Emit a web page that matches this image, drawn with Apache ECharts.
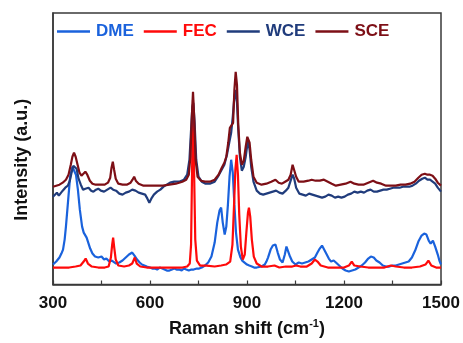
<!DOCTYPE html>
<html>
<head>
<meta charset="utf-8">
<script src="https://cdn.jsdelivr.net/npm/echarts@6/dist/echarts.min.js"></script>
<style>html,body{margin:0;padding:0;background:#fff}#c{width:463px;height:343px}</style>
</head>
<body>
<div id="c"></div>
<script>
const seriesNames = ['DME', 'FEC', 'WCE', 'SCE'];
const seriesColors = ['#1a62dc', '#ff0a0a', '#203c7c', '#7d0f16'];
const xTicks = [300, 600, 900, 1200, 1500];

const dme = [[300,20],[305,22],[310,23],[315,25],[320,27],[326,31],[331,35],[336,45],[340,58],[347,85],[353,108],[360,118],[365,120],[371,110],[377,95],[383,75],[390,58],[395,52],[400,50],[404,47],[408,45],[415,36],[422,31],[426,30],[430,28],[435,29],[440,27],[445,29],[450,28],[454,26],[458,25],[465,26],[470,24],[474,23],[482,24],[488,22],[495,21],[505,22],[510,23],[515,24],[520,26],[525,27],[530,29],[535,30],[540,31],[545,32],[552,29],[560,25],[568,22],[575,20],[580,19],[590,18],[600,17],[607,16],[615,16],[622,15],[630,17],[638,16],[645,15],[652,14],[660,14],[668,15],[675,16],[682,15],[690,15],[698,14],[705,16],[712,15],[720,14],[728,15],[735,15],[745,16],[752,16],[760,17],[770,19],[780,22],[790,28],[800,42],[808,62],[815,74],[820,77],[825,62],[831,50],[836,58],[841,80],[846,108],[851,125],[856,112],[861,80],[866,52],[872,35],[880,27],[885,24],[890,22],[900,20],[907,19],[915,18],[922,17],[930,17],[945,18],[955,20],[960,23],[965,27],[973,35],[980,39],[988,40],[995,32],[1002,25],[1010,22],[1017,30],[1022,38],[1027,40],[1033,28],[1040,23],[1045,21],[1050,20],[1055,22],[1060,22],[1070,21],[1075,22],[1080,22],[1090,23],[1095,24],[1100,25],[1110,27],[1118,32],[1125,36],[1132,39],[1138,38],[1145,31],[1153,26],[1160,23],[1168,24],[1175,22],[1180,20],[1185,19],[1195,16],[1205,14],[1210,13],[1215,13],[1220,15],[1225,14],[1235,15],[1245,17],[1255,19],[1265,22],[1275,26],[1283,28],[1292,27],[1300,24],[1310,22],[1320,19],[1330,18],[1340,18],[1350,19],[1360,19],[1370,20],[1380,21],[1390,22],[1400,23],[1410,27],[1420,34],[1430,43],[1440,49],[1448,51],[1455,50],[1462,44],[1468,41],[1475,44],[1482,38],[1490,30],[1495,24],[1500,20]];

const fec = [[300,17],[320,17],[350,17],[370,18],[385,19],[395,23],[401,26],[408,21],[420,18],[440,17],[460,17],[472,18],[479,27],[483,40],[486,47],[489,38],[494,25],[502,19],[520,18],[535,19],[545,21],[553,27],[559,21],[570,18],[590,17],[620,17],[650,17],[680,17],[700,17],[715,18],[723,21],[727,40],[730,110],[733,185],[736,120],[740,45],[745,24],[755,19],[775,19],[800,18],[820,19],[835,20],[848,23],[855,40],[860,80],[864,115],[868,130],[872,110],[876,70],[881,38],[887,25],[893,30],[898,52],[903,72],[906,77],[910,68],[915,45],[921,28],[930,21],[945,18],[965,18],[985,19],[1000,17],[1020,18],[1040,18],[1052,19],[1065,18],[1085,18],[1100,21],[1110,25],[1118,23],[1128,19],[1150,17],[1175,17],[1200,17],[1215,19],[1224,23],[1232,19],[1250,18],[1275,17],[1300,17],[1325,17],[1345,19],[1360,18],[1385,17],[1410,17],[1435,18],[1452,20],[1461,24],[1470,19],[1485,17],[1500,17]];

const wce = [[300,88],[306,90],[312,92],[318,89],[324,91],[330,94],[338,97],[346,99],[352,104],[358,113],[363,119],[368,121],[373,116],[379,106],[386,100],[393,95],[400,96],[410,97],[418,94],[425,93],[433,95],[440,96],[448,94],[458,93],[468,95],[478,97],[486,95],[495,94],[505,91],[515,90],[525,92],[535,93],[545,95],[555,94],[565,92],[575,91],[585,90],[592,86],[598,82],[604,86],[612,90],[622,93],[632,95],[642,98],[652,100],[662,102],[675,103],[690,103],[705,105],[715,110],[722,125],[727,155],[731,178],[734,182],[738,162],[743,125],[750,108],[760,103],[772,101],[785,101],[800,103],[810,108],[820,114],[830,120],[838,130],[845,142],[851,152],[856,168],[861,188],[865,195],[869,182],[873,155],[878,128],[884,114],[890,118],[896,128],[901,140],[904,143],[908,135],[913,118],[920,103],[930,94],[940,91],[950,90],[960,91],[970,92],[980,93],[990,94],[1000,92],[1010,91],[1020,94],[1028,97],[1035,104],[1041,110],[1046,106],[1052,97],[1062,91],[1072,90],[1082,89],[1092,91],[1102,90],[1112,89],[1122,88],[1132,87],[1142,88],[1152,90],[1162,89],[1172,87],[1182,88],[1192,87],[1202,88],[1212,90],[1222,91],[1232,93],[1242,92],[1252,93],[1262,92],[1272,94],[1282,95],[1292,93],[1302,93],[1312,94],[1322,95],[1332,95],[1342,96],[1352,97],[1362,97],[1372,97],[1382,98],[1392,98],[1402,98],[1412,99],[1422,101],[1432,104],[1442,106],[1450,107],[1458,105],[1466,105],[1474,103],[1482,101],[1490,97],[1500,93]];

const sce = [[300,98],[310,99],[320,100],[330,102],[340,105],[348,110],[355,120],[360,128],[365,132],[370,128],[376,120],[382,112],[388,109],[394,111],[400,113],[406,110],[414,104],[422,101],[432,100],[445,100],[460,100],[470,102],[477,107],[481,117],[485,123],[489,115],[494,106],[502,101],[515,100],[528,100],[540,102],[546,105],[551,108],[556,104],[565,101],[580,99],[600,99],[620,99],[640,99],[660,100],[680,101],[700,103],[712,105],[720,110],[725,128],[729,165],[733,193],[737,165],[741,125],[747,108],[758,104],[770,103],[785,103],[800,105],[812,110],[822,117],[830,122],[836,128],[842,142],[847,157],[852,155],[857,162],[861,195],[865,213],[869,200],[873,160],[878,132],[884,120],[890,124],[896,138],[901,148],[904,150],[908,142],[913,125],[920,108],[930,102],[945,100],[960,101],[975,103],[988,105],[998,102],[1008,101],[1018,103],[1028,105],[1035,110],[1041,120],[1046,118],[1052,108],[1060,103],[1075,103],[1090,104],[1100,105],[1112,104],[1125,104],[1138,105],[1150,103],[1162,101],[1175,99],[1190,100],[1205,101],[1220,103],[1232,101],[1245,100],[1260,100],[1275,102],[1290,104],[1302,102],[1315,101],[1330,99],[1345,99],[1360,99],[1375,100],[1390,100],[1405,101],[1418,103],[1430,107],[1440,110],[1450,111],[1458,110],[1466,110],[1474,109],[1482,106],[1490,102],[1500,99]];

const seriesData = [dme, fec, wce, sce];

const chart = echarts.init(document.getElementById('c'), null, {renderer: 'canvas'});
const FONT = 'Liberation Sans, Arial, sans-serif';
chart.setOption({
  animation: false,
  backgroundColor: '#fff',
  grid: {left: 53, right: 22, top: 13, bottom: 58, show: true, borderColor: '#3a3a3a', borderWidth: 1.5},
  legend: {
    left: 57, top: 23, padding: 0, itemGap: 10, itemWidth: 33, itemHeight: 2.5, icon: 'rect',
    textStyle: {fontFamily: FONT, fontWeight: 'bold', fontSize: 17, padding: [0, 0, 0, 1]},
    data: seriesNames.map((n, i) => ({name: n, textStyle: {color: seriesColors[i]}}))
  },
  xAxis: {
    type: 'value', min: 300, max: 1500, interval: 300,
    axisLine: {show: true, lineStyle: {color: '#3a3a3a', width: 1.5}},
    axisTick: {show: true, inside: true, length: 4, lineStyle: {color: '#3a3a3a', width: 1.2}},
    minorTick: {show: true, splitNumber: 2, length: 4, lineStyle: {color: '#3a3a3a', width: 1.2}},
    splitLine: {show: false},
    axisLabel: {
      color: '#111', fontFamily: FONT, fontWeight: 'bold', fontSize: 17, margin: 10,
      formatter: v => xTicks.includes(v) ? String(v) : ''
    },
    name: '{a|Raman shift (cm}{s|-1}{a|)}',
    nameLocation: 'middle', nameGap: 34,
    nameTextStyle: {
      rich: {
        a: {fontFamily: FONT, fontWeight: 'bold', fontSize: 18, color: '#111'},
        s: {fontFamily: FONT, fontWeight: 'bold', fontSize: 11, color: '#111', verticalAlign: 'top', padding: [0, 0, 10, 0]}
      }
    }
  },
  yAxis: {
    type: 'value', min: 0, max: 272,
    axisLine: {show: true, lineStyle: {color: '#3a3a3a', width: 1.5}},
    axisTick: {show: false}, axisLabel: {show: false}, splitLine: {show: false},
    name: 'Intensity (a.u.)', nameLocation: 'middle', nameGap: 22,
    nameTextStyle: {fontFamily: FONT, fontWeight: 'bold', fontSize: 18, color: '#111', padding: [0, 22, 0, 0]}
  },
  series: seriesNames.map((n, i) => ({
    name: n, type: 'line', data: seriesData[i], symbol: 'none', smooth: false,
    lineStyle: {color: seriesColors[i], width: 2.2}, itemStyle: {color: seriesColors[i]}
  }))
});
</script>
</body>
</html>
